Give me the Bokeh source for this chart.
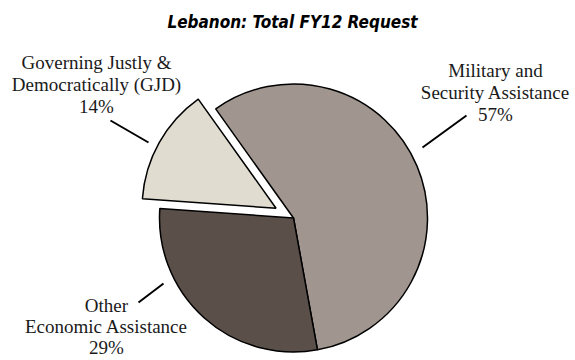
import math
from bokeh.plotting import figure
from bokeh.models import Range1d, ColumnDataSource
from bokeh.embed import file_html
from bokeh.resources import INLINE
from bokeh.core.properties import value

# ---- data ----
title = "Lebanon: Total FY12 Request"
categories = ["Military and\nSecurity Assistance",
              "Other\nEconomic Assistance",
              "Governing Justly &\nDemocratically (GJD)"]
values = [57, 29, 14]
colors = ["#a0968f", "#5a5049", "#e0ddd0"]

# ---- layout / style ----
W, H = 575, 360
CX, CY = 293.0, 217.5          # pie centre (pixels, from top)
R = 134
START = 125.5                  # degrees, slices run clockwise
explode = [0, 0, 20]
label_pos = [(495, 70), (106, 305), (96, 62)]   # centre x, first line y (px from top)
line_gaps = [22, 21, 22]
leaders = [((422, 147), (466, 115)),
           ((163, 283), (138, 302)),
           ((148, 142), (110, 120))]
serif = "Liberation Serif"
title_font = "'Liberation Sans Narrow', 'DejaVu Sans Condensed', 'Roboto Condensed', Roboto, sans-serif"


def fy(py):
    return H - py


p = figure(width=W, height=H, output_backend="svg", toolbar_location=None,
           x_range=Range1d(0, W), y_range=Range1d(0, H),
           min_border=0, outline_line_color=None)
p.axis.visible = False
p.grid.visible = False
p.background_fill_color = "white"
p.border_fill_color = "white"

total = float(sum(values))
xs, ys, sa, ea = [], [], [], []
a = START
for v, ex in zip(values, explode):
    span = 360.0 * v / total
    a_end = a - span
    mid = math.radians((a + a_end) / 2)
    xs.append(CX + ex * math.cos(mid))
    ys.append(fy(CY) + ex * math.sin(mid))
    sa.append(a)
    ea.append(a_end)
    a = a_end

src = ColumnDataSource(dict(x=xs, y=ys, s=sa, e=ea, c=colors))
p.wedge(x="x", y="y", radius=R, start_angle="s", end_angle="e",
        start_angle_units="deg", end_angle_units="deg", direction="clock",
        fill_color="c", line_color="black", line_width=1.5, source=src)

# leader lines
p.segment(x0=[l[0][0] for l in leaders], y0=[fy(l[0][1]) for l in leaders],
          x1=[l[1][0] for l in leaders], y1=[fy(l[1][1]) for l in leaders],
          line_color="black", line_width=2)

# labels
tx, ty, tt = [], [], []
for cat, v, (lx, ly), g in zip(categories, values, label_pos, line_gaps):
    lines = cat.split("\n") + [f"{v}%"]
    for i, t in enumerate(lines):
        tx.append(lx)
        ty.append(fy(ly + i * g))
        tt.append(t)
p.text(x=tx, y=ty, text=tt, text_align="center", text_baseline="middle",
       text_font=value(serif), text_font_size="19px", text_color="#1a1a1a")

# title
p.text(x=[292], y=[fy(21)], text=[title], text_align="center", text_baseline="middle",
       text_font=value(title_font), text_font_style="bold italic",
       text_font_size="17px", text_color="black")

open("out.html", "w").write(file_html(p, INLINE))
